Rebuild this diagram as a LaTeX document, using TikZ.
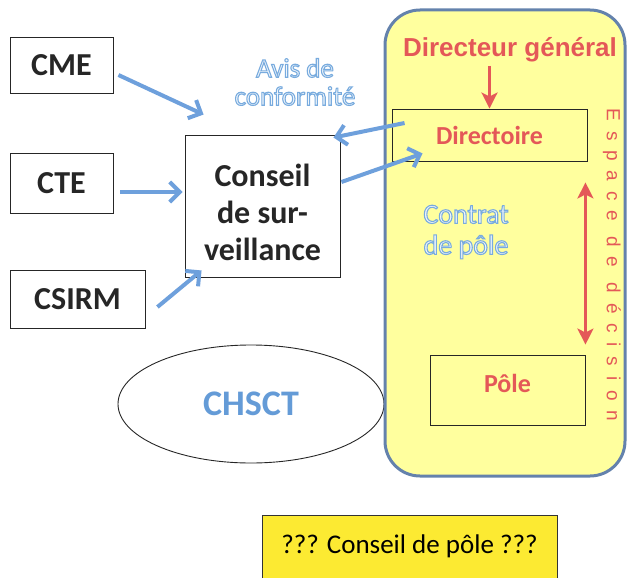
\documentclass[tikz,border=0pt]{standalone}
\usepackage{fontspec}
\setmainfont{Carlito}
\newfontfamily\arialfont{Liberation Sans}
\newfontfamily\spacedfont[LetterSpace=52]{Liberation Sans}
\usepackage{tikz}
\usetikzlibrary{arrows.meta, positioning, shapes.geometric, calc}

\definecolor{arrowblue}{RGB}{110,160,220}
\definecolor{chsctblue}{RGB}{100,155,215}
\definecolor{paleblue}{RGB}{240,246,252}
\definecolor{decisred}{RGB}{228,88,88}
\definecolor{panelyellow}{RGB}{255,255,158}
\definecolor{panelborder}{RGB}{100,130,172}
\definecolor{notepad}{RGB}{252,234,50}
% outlined letters: fill pale, stroke blue
\newcommand{\hollow}[1]{\special{pdf:literal direct 0.47 0.67 0.87 RG 1.1 w 2 Tr}#1\special{pdf:literal direct 0 Tr}}

\begin{document}
\begin{tikzpicture}[x=1pt, y=-1pt,
  box/.style={draw=black!85, line width=0.9pt, text=black!85, inner sep=0pt,
    font=\bfseries\fontsize{32}{37}\selectfont},
  redbox/.style={draw=black!85, line width=0.9pt, text=decisred, inner sep=0pt,
    font=\bfseries\fontsize{26}{30}\selectfont},
  bluearrow/.style={arrowblue, line width=4pt, -{Straight Barb[length=10pt, width=20pt]}},
  redarrow/.style={decisred, line width=3pt, -{Stealth[length=16pt, width=16pt, inset=4pt]}},
  redboth/.style={decisred, line width=3pt,
    {Stealth[length=16pt, width=16pt, inset=4pt]}-{Stealth[length=16pt, width=16pt, inset=4pt]}},
  outlined/.style={align=center, text=paleblue}]
\clip (0,0) rectangle (629,578);

% Left: committees
\node[box, minimum width=103, minimum height=56] (cme) at (61.5,65) {CME};
\node[box, minimum width=103, minimum height=60] (cte) at (61.5,183) {CTE};
\node[box, minimum width=135, minimum height=58] (csirm) at (77.5,299) {CSIRM};
\node[box, minimum width=155, minimum height=142, align=center, text height=110] (conseil) at (262.5,206)
  {Conseil\\de sur-\\veillance};
\node[draw=black!85, line width=0.9pt, ellipse, minimum width=266, minimum height=118,
  text=chsctblue, font=\bfseries\fontsize{36}{40}\selectfont] (chsct) at (251,404) {CHSCT};
\node[outlined, font=\fontsize{27}{28}\selectfont] (avis) at (295,82)
  {\hollow{Avis de}\\\hollow{conformité}};

% Right: decision panel
\draw[fill=panelyellow, draw=panelborder, line width=3pt, rounded corners=35] (385,10) rectangle (625,476);
\node[text=decisred, font=\arialfont\bfseries\fontsize{26}{30}\selectfont] (dg) at (510,50) {Directeur général};
\node[redbox, minimum width=195, minimum height=52] (directoire) at (489.5,135) {Directoire};
\node[redbox, minimum width=155, minimum height=70, text depth=14] (pole) at (507.5,390) {Pôle};
\node[outlined, font=\fontsize{28}{31}\selectfont] (contrat) at (466,232)
  {\hollow{Contrat}\\\hollow{de pôle}};
\node[text=decisred, rotate=-90, font=\spacedfont\fontsize{19}{22}\selectfont] (espace) at (612,265)
  {Espace de décision};

% Bottom note
\node[fill=notepad, draw=black!80, line width=0.8pt, minimum width=295, minimum height=70,
  text depth=12, font=\fontsize{27}{31}\selectfont] (cdp) at (409.5,550) {??? Conseil de pôle ???};

% Arrows
\draw[bluearrow] ($(cme.east)+(5,10)$) -- ($(conseil.north west)+(19,-20)$);
\draw[bluearrow] ($(cte.east)+(7,9)$) -- ($(conseil.west)+(-2,-14)$);
\draw[bluearrow] ($(csirm.east)+(12,8)$) -- ($(conseil.south west)+(17,-7)$);
\draw[bluearrow] ($(directoire.west)+(13,-12)$) -- ($(conseil.north east)+(-7,3)$);
\draw[bluearrow] ($(conseil.east)+(1,-24)$) -- ($(directoire.south west)+(31,-8)$);
\draw[redarrow, xshift=-6pt] (dg.south -| directoire.north) -- (directoire.north);
\draw[redboth, xshift=-25pt, shorten <=21pt, shorten >=10pt]
  (directoire.south -| pole.east) -- (pole.north -| pole.east);
\end{tikzpicture}
\end{document}
